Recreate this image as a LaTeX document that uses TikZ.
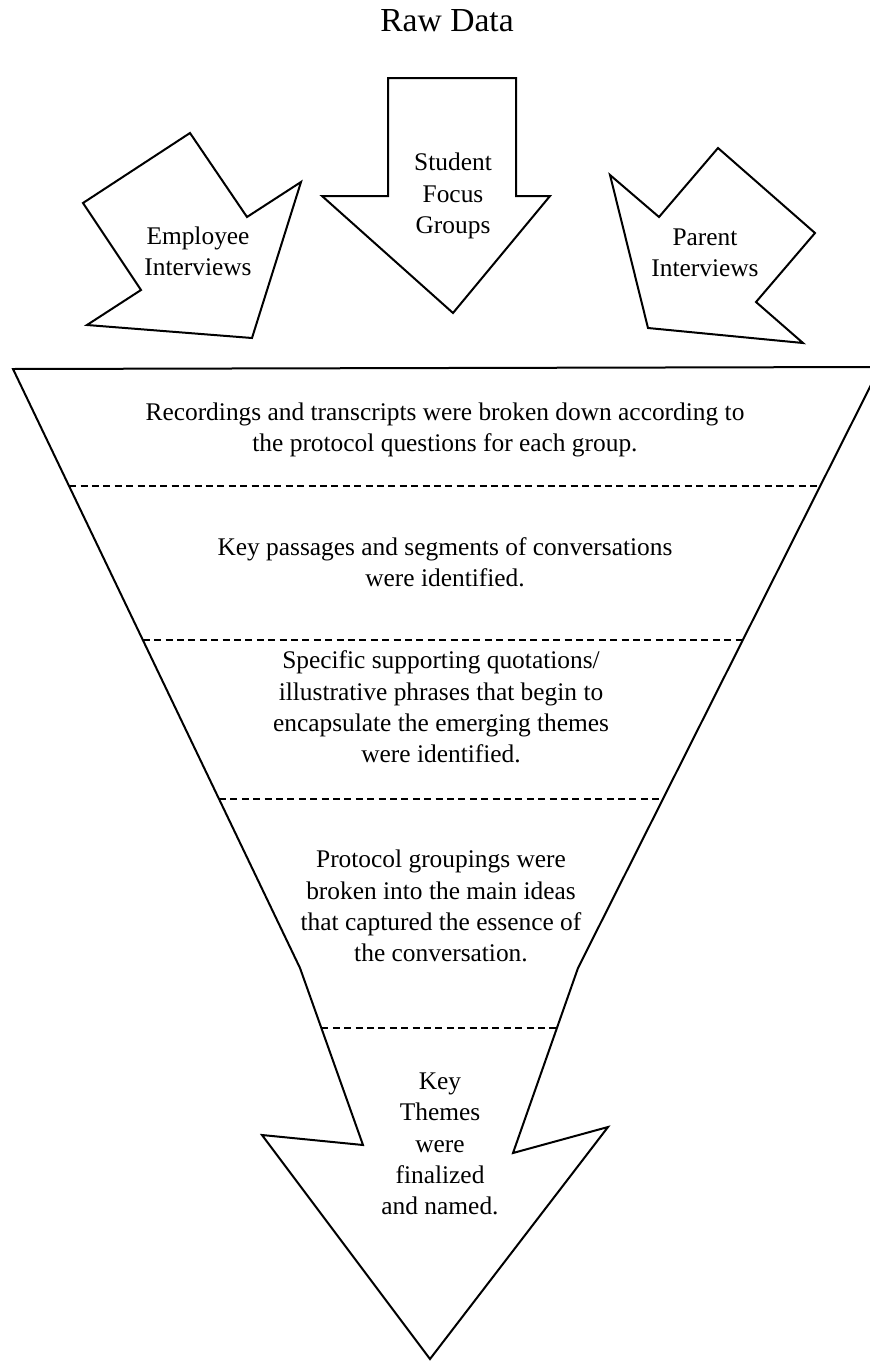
\documentclass[tikz,border=0pt]{standalone}
\usepackage{fontspec}
\setmainfont{Liberation Serif}
\begin{document}
\begin{tikzpicture}[x=0.5pt,y=-0.5pt,
  outline/.style={draw=black,line width=1pt,line join=miter,fill=white},
  sep/.style={draw=black,line width=0.8pt,dash pattern=on 3.5pt off 2.2pt},
  lbl/.style={align=center,inner sep=0pt,font=\fontsize{12.7pt}{15.6pt}\selectfont},
  title/.style={inner sep=0pt,font=\fontsize{16.8pt}{20pt}\selectfont}]
\useasboundingbox (0,0) rectangle (870,1365);
\clip (0,0) rectangle (870,1365);

% Title
\node[title,anchor=base] (raw) at (447,32) {Raw Data};

% Employee arrow
\draw[outline] (190,133) -- (247,217) -- (301,182) -- (252,338) -- (87,325) -- (141,290) -- (83,203) -- cycle;
\node[lbl] (emp) at (198,251) {Employee\\Interviews};

% Student arrow
\draw[outline] (388,78) -- (516,78) -- (516,196) -- (550,196) -- (453,313) -- (322,196) -- (388,196) -- cycle;
\node[lbl] (stu) at (453,196) {Student\\Focus\\Groups};

% Parent arrow
\draw[outline] (610,175) -- (659,217) -- (718,148) -- (815,233) -- (756,302) -- (803,343) -- (648,328) -- cycle;
\node[lbl] (par) at (705,253) {Parent\\Interviews};

% Funnel
\coordinate (ftl) at (13,369);
\coordinate (ftr) at (880,367);
\coordinate (fbr) at (578,968);
\coordinate (fnr) at (513,1153);
\coordinate (fwr) at (608,1127);
\coordinate (ftip) at (430,1359);
\coordinate (fwl) at (262,1135);
\coordinate (fnl) at (363,1145);
\coordinate (fbl) at (300,968);
\draw[outline] (ftl) -- (ftr) -- (fbr) -- (fnr) -- (fwr) -- (ftip) -- (fwl) -- (fnl) -- (fbl) -- cycle;

% Separators
\coordinate (d1l) at (69.1,486);  \coordinate (d1r) at (820.2,486);
\coordinate (d2l) at (142.8,640); \coordinate (d2r) at (742.8,640);
\coordinate (d3l) at (219,799);   \coordinate (d3r) at (662.9,799);
\coordinate (d4l) at (321.4,1028);\coordinate (d4r) at (556.9,1028);
\draw[sep] (d1l) -- (d1r);
\draw[sep] (d2l) -- (d2r);
\draw[sep] (d3l) -- (d3r);
\draw[sep] (d4l) -- (d4r);

% Stage texts
\node[lbl] (s1) at (445,430) {Recordings and transcripts were broken down according to\\the protocol questions for each group.};
\node[lbl] (s2) at (445,562) {Key passages and segments of conversations\\were identified.};
\node[lbl] (s3) at (441,707) {Specific supporting quotations/\\illustrative phrases that begin to\\encapsulate the emerging themes\\were identified.};
\node[lbl] (s4) at (441,906) {Protocol groupings were\\broken into the main ideas\\that captured the essence of\\the conversation.};
\node[lbl] (s5) at (440,1144) {Key\\Themes\\were\\finalized\\and named.};
\end{tikzpicture}
\end{document}
